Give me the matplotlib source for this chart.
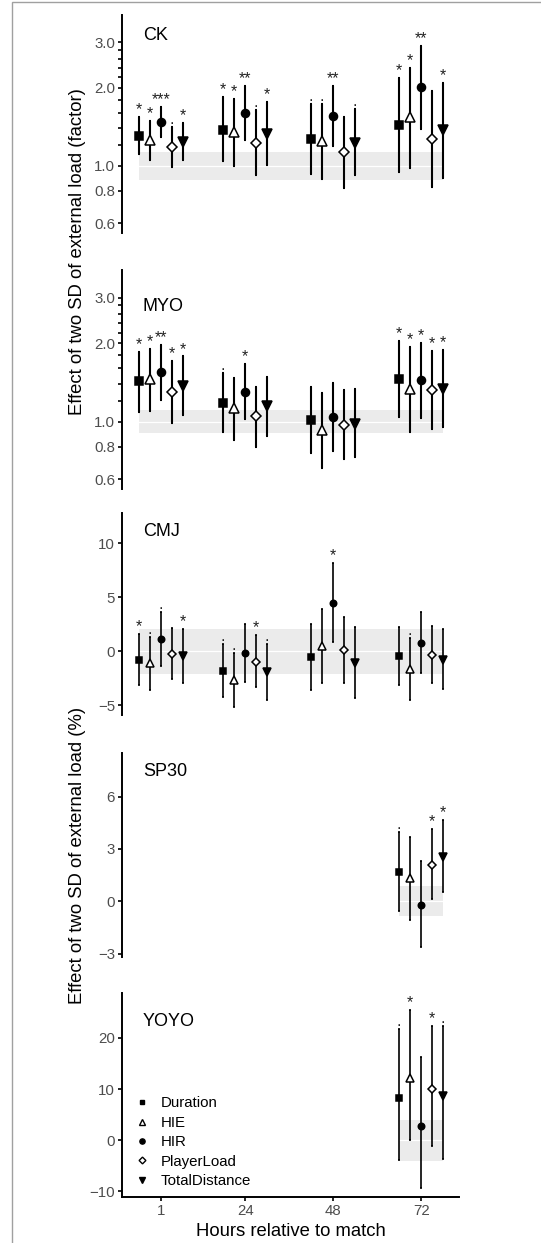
import numpy as np
import matplotlib.pyplot as plt
from matplotlib.lines import Line2D
from matplotlib.patches import Rectangle

plt.rcParams['font.family'] = ['Liberation Sans', 'DejaVu Sans']

hours = [1, 24, 48, 72]
measures = ["Duration", "HIE", "HIR", "PlayerLoad", "TotalDistance"]

# CK (factor), rows = hours, cols = measures
ck_est = [[1.31, 1.26, 1.48, 1.18, 1.24],
          [1.38, 1.35, 1.60, 1.23, 1.33],
          [1.27, 1.25, 1.56, 1.13, 1.23],
          [1.44, 1.54, 2.01, 1.27, 1.37]]
ck_lo = [[1.11, 1.05, 1.29, 0.99, 1.05],
         [1.04, 1.00, 1.26, 0.92, 1.01],
         [0.93, 0.89, 1.19, 0.82, 0.92],
         [0.95, 0.98, 1.39, 0.83, 0.90]]
ck_hi = [[1.54, 1.49, 1.69, 1.41, 1.47],
         [1.84, 1.81, 2.04, 1.65, 1.76],
         [1.73, 1.73, 2.03, 1.55, 1.66],
         [2.19, 2.39, 2.91, 1.95, 2.10]]
ck_sig = [["*", "*", "***", ".", "*"],
          ["*", "*", "**", ".", "*"],
          [".", ".", "**", "", "."],
          ["*", "*", "**", "", "*"]]

# MYO (factor)
myo_est = [[1.43, 1.46, 1.55, 1.30, 1.37],
           [1.18, 1.13, 1.30, 1.05, 1.15],
           [1.01, 0.93, 1.04, 0.97, 0.98],
           [1.46, 1.33, 1.44, 1.32, 1.33]]
myo_lo = [[1.09, 1.10, 1.21, 0.99, 1.06],
          [0.91, 0.85, 1.02, 0.80, 0.88],
          [0.76, 0.66, 0.77, 0.72, 0.73],
          [1.04, 0.91, 1.03, 0.94, 0.95]]
myo_hi = [[1.86, 1.90, 1.97, 1.71, 1.78],
          [1.54, 1.47, 1.66, 1.36, 1.49],
          [1.36, 1.29, 1.41, 1.32, 1.33],
          [2.04, 1.93, 2.00, 1.87, 1.88]]
myo_sig = [["*", "*", "**", "*", "*"],
           [".", "", "*", "", ""],
           ["", "", "", "", ""],
           ["*", "*", "*", "*", "*"]]

# CMJ (%)
cmj_est = [[-0.80, -1.05, 1.14, -0.25, -0.43],
           [-1.82, -2.62, -0.19, -0.96, -1.94],
           [-0.52, 0.46, 4.48, 0.09, -1.05],
           [-0.46, -1.67, 0.80, -0.31, -0.80]]
cmj_lo = [[-3.12, -3.58, -1.36, -2.56, -2.96],
          [-4.23, -5.15, -2.81, -3.33, -4.50],
          [-3.58, -2.90, 0.90, -2.90, -4.29],
          [-3.12, -4.50, -2.04, -2.90, -3.52]]
cmj_hi = [[1.64, 1.36, 3.67, 2.13, 2.07],
          [0.68, -0.12, 2.53, 1.48, 0.65],
          [2.53, 3.89, 8.15, 3.15, 2.25],
          [2.25, 1.23, 3.67, 2.31, 2.04]]
cmj_sig = [["*", ".", ".", "", "*"],
           [".", ".", "", "*", "."],
           ["", "", "*", "", ""],
           ["", ".", "", "", ""]]

# SP30 and YOYO (%), only measured at 72 h
late_hours = [72]
sp30_est = [[1.68, 1.32, -0.19, 2.10, 2.56]]
sp30_lo = [[-0.55, -1.07, -2.64, 0.10, 0.50]]
sp30_hi = [[3.99, 3.71, 2.31, 4.15, 4.64]]
sp30_sig = [[".", "", "", "*", "*"]]

yoyo_est = [[8.3, 12.1, 2.8, 10.0, 8.6]]
yoyo_lo = [[-3.8, 0.1, -9.3, -1.1, -3.6]]
yoyo_hi = [[21.8, 25.4, 16.3, 22.4, 22.4]]
yoyo_sig = [[".", "*", "", "*", "."]]

# smallest worthwhile change bands
ck_band = [0.882, 1.133]
myo_band = [0.90, 1.11]
cmj_band = [-2.1, 2.1]
sp30_band = [-0.86, 0.86]
yoyo_band = [-4.0, 4.0]

dodge = [-6, -3, 0, 3, 6]
markers = ['s', '^', 'o', 'D', 'v']
filled = [True, False, True, False, True]
msizes = [5.3, 7.0, 5.8, 5.3, 7.0]

W, H = 541, 1243
fig = plt.figure(figsize=(W / 100, H / 100), dpi=100)


def box(top, bottom):
    return [122 / W, 1 - bottom / H, 337 / W, (bottom - top) / H]


def panel(ax, hrs, est, lo, hi, sig, band, ref, scale, lw):
    est, lo, hi, sig = np.array(est), np.array(lo), np.array(hi), np.array(sig)
    x0, x1 = min(hrs) + dodge[0], max(hrs) + dodge[-1]
    ax.fill_between([x0, x1], band[0], band[1], color='#EBEBEB', lw=0, zorder=0)
    ax.plot([x0, x1], [ref, ref], color='white', lw=0.9, zorder=0.5)
    for j in range(len(measures)):
        x = np.array(hrs) + dodge[j]
        ax.errorbar(x, est[:, j], yerr=[est[:, j] - lo[:, j], hi[:, j] - est[:, j]],
                    fmt='none', ecolor='black', elinewidth=lw, capsize=1.0,
                    capthick=lw, zorder=2)
        ax.plot(x, est[:, j], linestyle='none', marker=markers[j],
                ms=msizes[j] * scale, mfc='black' if filled[j] else 'white',
                mec='black', mew=1.1, zorder=4)
        for xi, h, s in zip(x, hi[:, j], sig[:, j]):
            if s:
                ax.annotate(s, (xi, h), xytext=(0, 2.0), textcoords='offset points',
                            ha='center', va='baseline', fontsize=11.5, color='#222222')
    ax.set_xlim(-9.6, 82.3)
    for side in ['top', 'right', 'bottom']:
        ax.spines[side].set_visible(False)
    ax.spines['left'].set_linewidth(1.4)
    ax.tick_params(axis='y', which='both', length=3, width=1.2, labelsize=10.8,
                   labelcolor='#4D4D4D', pad=2)
    ax.tick_params(axis='x', bottom=False, labelbottom=False)


def log_axis(ax):
    ax.set_yscale('log')
    ax.set_ylim(0.55, 3.83)
    ax.set_yticks([0.6, 0.8, 1.0, 2.0, 3.0])
    ax.set_yticklabels(["0.6", "0.8", "1.0", "2.0", "3.0"])
    ax.set_yticks([1.2, 1.4, 1.6, 1.8, 2.2, 2.4, 2.6, 2.8], minor=True)
    ax.set_yticklabels([], minor=True)


ax1 = fig.add_axes(box(15, 233))
panel(ax1, hours, ck_est, ck_lo, ck_hi, ck_sig, ck_band, 1.0, 1.0, 1.5)
log_axis(ax1)
ax1.text(0.062, 0.905, "CK", transform=ax1.transAxes, fontsize=13, va='center')

ax2 = fig.add_axes(box(270, 489))
panel(ax2, hours, myo_est, myo_lo, myo_hi, myo_sig, myo_band, 1.0, 1.0, 1.5)
log_axis(ax2)
ax2.text(0.062, 0.832, "MYO", transform=ax2.transAxes, fontsize=13, va='center')

ax3 = fig.add_axes(box(513, 715))
panel(ax3, hours, cmj_est, cmj_lo, cmj_hi, cmj_sig, cmj_band, 0.0, 0.8, 1.2)
ax3.set_ylim(-5.9, 12.8)
ax3.set_yticks([-5, 0, 5, 10])
ax3.text(0.062, 0.91, "CMJ", transform=ax3.transAxes, fontsize=13, va='center')

ax4 = fig.add_axes(box(753, 957))
panel(ax4, late_hours, sp30_est, sp30_lo, sp30_hi, sp30_sig, sp30_band, 0.0, 0.8, 1.2)
ax4.set_ylim(-3.2, 8.5)
ax4.set_yticks([-3, 0, 3, 6])
ax4.text(0.062, 0.91, "SP30", transform=ax4.transAxes, fontsize=13, va='center')

ax5 = fig.add_axes(box(993, 1197))
panel(ax5, late_hours, yoyo_est, yoyo_lo, yoyo_hi, yoyo_sig, yoyo_band, 0.0, 0.8, 1.2)
ax5.set_ylim(-11.1, 28.8)
ax5.set_yticks([-10, 0, 10, 20])
ax5.text(0.062, 0.86, "YOYO", transform=ax5.transAxes, fontsize=13, va='center')
ax5.spines['bottom'].set_visible(True)
ax5.spines['bottom'].set_linewidth(1.4)
ax5.tick_params(axis='x', bottom=True, labelbottom=True, length=3, width=1.2,
                labelsize=10.8, labelcolor='#4D4D4D', pad=2)
ax5.set_xticks(hours)
ax5.set_xlabel("Hours relative to match", fontsize=13.3, labelpad=4)

handles = [Line2D([], [], linestyle='none', marker=markers[j], ms=msizes[j] * 0.65,
                  mfc='black' if filled[j] else 'white', mec='black', mew=1.0)
           for j in range(len(measures))]
ax5.legend(handles, measures, loc='lower left', bbox_to_anchor=(0.0, -0.015),
           frameon=False, fontsize=10.8, handlelength=1.0, handletextpad=0.75,
           labelspacing=0.36, borderpad=0.3)

fig.text(78 / W, 1 - 252 / H, "Effect of two SD of external load (factor)",
         rotation=90, ha='center', va='center', fontsize=13.3)
fig.text(78 / W, 1 - 855 / H, "Effect of two SD of external load (%)",
         rotation=90, ha='center', va='center', fontsize=13.3)

fig.add_artist(Rectangle((12 / W, -0.01), 1.0, 1 - 2 / H + 0.01, transform=fig.transFigure,
                         fill=False, edgecolor='#A0A0A0', lw=1.0))

fig.savefig("out.png", dpi=100)
